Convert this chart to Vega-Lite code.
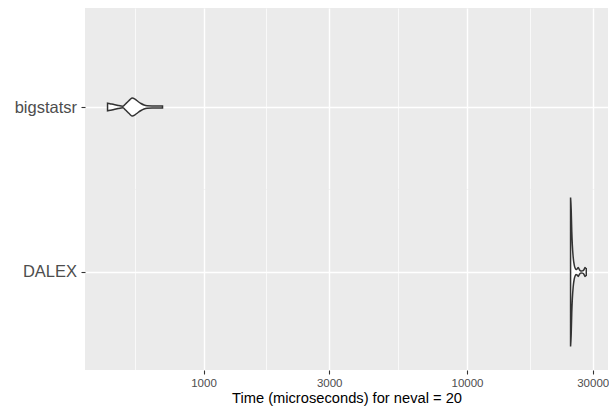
{
  "$schema": "https://vega.github.io/schema/vega-lite/v6.json",
  "background": "white",
  "padding": {"left": 5, "top": 8, "right": 1, "bottom": 0},
  "spacing": 0,
  "datasets": {
    "violins": [
      {"expr": "bigstatsr", "time": 432.3, "w": 0.051},
      {"expr": "bigstatsr", "time": 441.6, "w": 0.044},
      {"expr": "bigstatsr", "time": 457.3, "w": 0.034},
      {"expr": "bigstatsr", "time": 473.6, "w": 0.021},
      {"expr": "bigstatsr", "time": 486.2, "w": 0.013},
      {"expr": "bigstatsr", "time": 494.8, "w": 0.011},
      {"expr": "bigstatsr", "time": 505.8, "w": 0.04},
      {"expr": "bigstatsr", "time": 517.0, "w": 0.074},
      {"expr": "bigstatsr", "time": 526.1, "w": 0.1},
      {"expr": "bigstatsr", "time": 536.8, "w": 0.121},
      {"expr": "bigstatsr", "time": 549.5, "w": 0.105},
      {"expr": "bigstatsr", "time": 564.1, "w": 0.074},
      {"expr": "bigstatsr", "time": 579.1, "w": 0.047},
      {"expr": "bigstatsr", "time": 594.5, "w": 0.027},
      {"expr": "bigstatsr", "time": 610.4, "w": 0.017},
      {"expr": "bigstatsr", "time": 637.7, "w": 0.015},
      {"expr": "bigstatsr", "time": 666.2, "w": 0.015},
      {"expr": "bigstatsr", "time": 699.0, "w": 0.015},
      {"expr": "DALEX", "time": 24730, "w": 1.0},
      {"expr": "DALEX", "time": 24860, "w": 0.85},
      {"expr": "DALEX", "time": 24990, "w": 0.55},
      {"expr": "DALEX", "time": 25120, "w": 0.36},
      {"expr": "DALEX", "time": 25300, "w": 0.2},
      {"expr": "DALEX", "time": 25520, "w": 0.1},
      {"expr": "DALEX", "time": 25750, "w": 0.05},
      {"expr": "DALEX", "time": 25925, "w": 0.035},
      {"expr": "DALEX", "time": 26153, "w": 0.04},
      {"expr": "DALEX", "time": 26450, "w": 0.06},
      {"expr": "DALEX", "time": 26725, "w": 0.03},
      {"expr": "DALEX", "time": 27078, "w": 0.012},
      {"expr": "DALEX", "time": 27436, "w": 0.015},
      {"expr": "DALEX", "time": 27800, "w": 0.03},
      {"expr": "DALEX", "time": 28044, "w": 0.06},
      {"expr": "DALEX", "time": 28245, "w": 0.05},
      {"expr": "DALEX", "time": 28370, "w": 0.045}
    ]
  },
  "vconcat": [
    {
      "width": 523,
      "height": 181,
      "data": {"name": "violins"},
      "transform": [{"filter": {"field": "expr", "equal": "bigstatsr"}}],
      "layer": [
        {
          "mark": {"type": "point", "opacity": 0},
          "encoding": {
            "x": {
              "field": "time", "type": "quantitative",
              "scale": {"type": "log", "domain": [355, 34300], "nice": false},
              "axis": {"orient": "bottom", "values": [547.7, 1732, 5477, 17321], "labels": false, "ticks": false, "domain": false, "grid": true, "gridColor": "white", "gridWidth": 0.7, "title": null, "minExtent": 0, "maxExtent": 0}
            }
          }
        },
        {
          "mark": {"type": "area", "fill": "white", "stroke": "#333333", "strokeWidth": 1.5, "interpolate": "monotone"},
          "encoding": {
            "x": {
              "field": "time", "type": "quantitative",
              "scale": {"type": "log", "domain": [355, 34300], "nice": false},
              "axis": {"orient": "bottom", "values": [1000, 3000, 10000, 30000], "labels": false, "ticks": false, "domain": false, "grid": true, "gridColor": "white", "gridWidth": 1.4, "title": null, "minExtent": 0, "maxExtent": 0}
            },
            "y": {
              "field": "w", "type": "quantitative", "stack": "center",
              "scale": {"domain": [-0.4898, 0.7249], "nice": false, "zero": false},
              "axis": {"values": [0.0605], "labelExpr": "'bigstatsr'", "grid": true, "gridColor": "white", "gridWidth": 1.4, "ticks": true, "tickSize": 4, "tickColor": "#333333", "tickWidth": 1.1, "domain": false, "labelFontSize": 16.5, "labelColor": "#4D4D4D", "labelPadding": 4.5, "title": null, "minExtent": 80, "maxExtent": 80}
            }
          }
        }
      ],
      "resolve": {"axis": {"x": "independent"}}
    },
    {
      "width": 523,
      "height": 181,
      "data": {"name": "violins"},
      "transform": [{"filter": {"field": "expr", "equal": "DALEX"}}],
      "layer": [
        {
          "mark": {"type": "point", "opacity": 0},
          "encoding": {
            "x": {
              "field": "time", "type": "quantitative",
              "scale": {"type": "log", "domain": [355, 34300], "nice": false},
              "axis": {"orient": "bottom", "values": [547.7, 1732, 5477, 17321], "labels": false, "ticks": false, "domain": false, "grid": true, "gridColor": "white", "gridWidth": 0.7, "title": null, "minExtent": 0, "maxExtent": 0}
            }
          }
        },
        {
          "mark": {"type": "area", "fill": "white", "stroke": "#333333", "strokeWidth": 1.5, "interpolate": "monotone"},
          "encoding": {
            "x": {
              "field": "time", "type": "quantitative",
              "scale": {"type": "log", "domain": [355, 34300], "nice": false},
              "axis": {"orient": "bottom", "values": [1000, 3000, 10000, 30000], "format": "d", "labelFlush": false, "labelFontSize": 11.5, "labelColor": "#4D4D4D", "labelPadding": 3, "ticks": true, "tickSize": 4, "tickColor": "#333333", "tickWidth": 1.1, "domain": false, "grid": true, "gridColor": "white", "gridWidth": 1.4, "title": "Time (microseconds) for neval = 20", "titleFontSize": 14.7, "titleFontWeight": "normal", "titleColor": "black", "titlePadding": 2}
            },
            "y": {
              "field": "w", "type": "quantitative", "stack": "center",
              "scale": {"domain": [-0.1577, 1.057], "nice": false, "zero": false},
              "axis": {"values": [0.5], "labelExpr": "'DALEX'", "grid": true, "gridColor": "white", "gridWidth": 1.4, "ticks": true, "tickSize": 4, "tickColor": "#333333", "tickWidth": 1.1, "domain": false, "labelFontSize": 16.5, "labelColor": "#4D4D4D", "labelPadding": 4.5, "title": null, "minExtent": 80, "maxExtent": 80}
            }
          }
        }
      ],
      "resolve": {"axis": {"x": "independent"}}
    }
  ],
  "config": {
    "view": {"fill": "#EBEBEB", "stroke": null},
    "font": "Liberation Sans"
  }
}
